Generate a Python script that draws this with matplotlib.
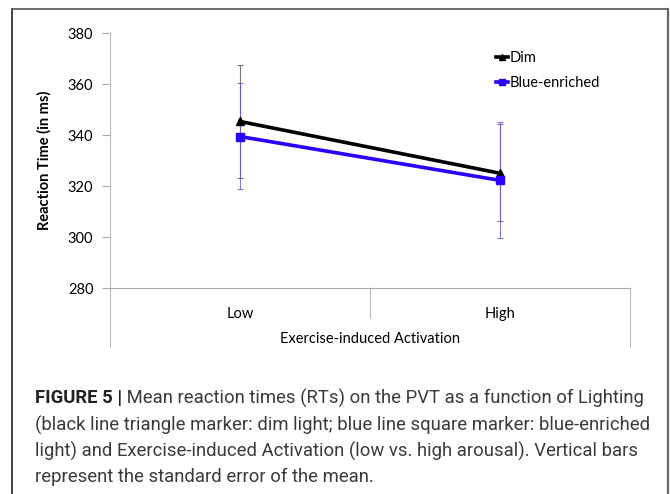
import matplotlib
matplotlib.use("Agg")
import matplotlib.pyplot as plt
from matplotlib import font_manager

# data
conditions = ["Low", "High"]
dim_mean = [345.3, 325.0]
dim_se_low = [345.3 - 323.3, 325.0 - 306.3]
dim_se_high = [367.6 - 345.3, 344.3 - 325.0]
blue_mean = [339.4, 322.2]
blue_se_low = [339.4 - 318.8, 322.2 - 299.5]
blue_se_high = [360.2 - 339.4, 345.2 - 322.2]
yticks = [280, 300, 320, 340, 360, 380]

caption_bold = "FIGURE 5 |"
caption_lines = [
    " Mean reaction times (RTs) on the PVT as a function of Lighting",
    "(black line triangle marker: dim light; blue line square marker: blue-enriched",
    "light) and Exercise-induced Activation (low vs. high arousal). Vertical bars",
    "represent the standard error of the mean.",
]

names = {f.name for f in font_manager.fontManager.ttflist}
cap_font = "Liberation Sans Narrow" if "Liberation Sans Narrow" in names else "Roboto"
chart_font = "Lato" if "Lato" in names else "DejaVu Sans"

W, H = 670, 494
fig = plt.figure(figsize=(W / 100, H / 100), dpi=100)

# outer frame (open at the bottom)
fig.add_artist(plt.Line2D([12 / W, 12 / W], [0, 1 - 9 / H], color="#222222", lw=1.2))
fig.add_artist(plt.Line2D([12 / W, 668 / W], [1 - 9 / H, 1 - 9 / H], color="#555555", lw=1.2))
fig.add_artist(plt.Line2D([668 / W, 668 / W], [0, 1 - 9 / H], color="#666666", lw=1.6))

ax = fig.add_axes([110 / W, 206 / H, 520 / W, 255 / H])
x = list(range(len(conditions)))

ax.errorbar(x, dim_mean, yerr=[dim_se_low, dim_se_high], fmt="none",
            ecolor="#777777", elinewidth=0.8, capsize=2.5, capthick=0.8, zorder=2)
ax.errorbar(x, blue_mean, yerr=[blue_se_low, blue_se_high], fmt="none",
            ecolor="#6a5acd", elinewidth=0.8, capsize=2.5, capthick=0.8, alpha=0.8, zorder=2)
ax.plot(x, dim_mean, color="black", lw=2.6, marker="^", ms=5.5, label="Dim", zorder=3)
ax.plot(x, blue_mean, color="#2a00ff", lw=2.6, marker="s", ms=5.5, label="Blue-enriched", zorder=3)

ax.set_xlim(-0.5, 1.5)
ax.set_ylim(280, 380)
ax.set_yticks(yticks)
ax.set_xticks(x)
ax.set_xticklabels(conditions, fontsize=10.5, family=chart_font)
ax.tick_params(axis="x", length=0, pad=14)
ax.tick_params(axis="y", length=6, color="#aaaaaa", width=0.8, labelsize=10.5, pad=6)
for lab in ax.get_yticklabels():
    lab.set_family(chart_font)

for s in ["top", "right"]:
    ax.spines[s].set_visible(False)
ax.spines["left"].set_color("#bbbbbb")
ax.spines["bottom"].set_color("#aaaaaa")
ax.spines["left"].set_linewidth(0.8)
ax.spines["bottom"].set_linewidth(0.8)

# category separators below the axis
tr = ax.get_xaxis_transform()
for xs, depth in [(-0.5, -0.23), (0.5, -0.118), (1.5, -0.23)]:
    ax.plot([xs, xs], [0, depth], transform=tr, color="#bbbbbb", lw=0.8, clip_on=False)

ax.set_ylabel("Reaction Time (in ms)", fontsize=10.5, fontweight="bold", family=chart_font, labelpad=12)
ax.text(0.5, -0.2, "Exercise-induced Activation", transform=ax.transAxes,
        ha="center", va="center", fontsize=10.5, family=chart_font)

ax.legend(loc="upper left", bbox_to_anchor=(0.718, 0.98), frameon=False,
          prop={"family": chart_font, "size": 10.5}, handlelength=0.8,
          handletextpad=0.1, labelspacing=0.75, markerscale=0.9)

# caption
renderer = fig.canvas.get_renderer()
x0 = 35 / W
ys = [398, 425, 451, 477]
tb = fig.text(x0, 1 - ys[0] / H, caption_bold, fontsize=13.3, fontweight="bold",
              family=cap_font, color="#222222", va="center")
bb = tb.get_window_extent(renderer)
fig.text(bb.x1 / W, 1 - ys[0] / H, caption_lines[0], fontsize=13.3, family=cap_font,
         color="#3a3a3a", va="center")
for line, yy in zip(caption_lines[1:], ys[1:]):
    fig.text(x0, 1 - yy / H, line, fontsize=13.3, family=cap_font, color="#3a3a3a", va="center")

fig.savefig("out.png", dpi=100)
